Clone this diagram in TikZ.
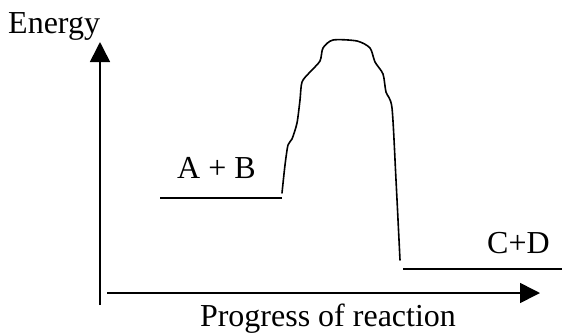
\documentclass[tikz,border=0pt]{standalone}
\usepackage{fontspec}
\setmainfont{Liberation Serif}
\usetikzlibrary{arrows.meta}
\tikzset{
  lbl/.style={font=\fontsize{32}{38}\selectfont, inner sep=0pt, anchor=base west},
  axis/.style={line width=1.6pt, -{Triangle[length=20pt,width=20pt]}},
  level/.style={line width=1.6pt},
  curveline/.style={line width=1.6pt, line join=round, line cap=round}
}
\begin{document}
\begin{tikzpicture}[x=1pt,y=-1pt]
\useasboundingbox (0,0) rectangle (562,333);
% axes
\coordinate (yb) at (100,305);
\coordinate (yt) at (100,42);
\coordinate (xl) at (107,293);
\coordinate (xr) at (540,293);
\draw[axis] (yb) -- (yt);
\draw[axis] (xl) -- (xr);
% labels
\node[lbl] (energy) at (8,33) {Energy};
\node[lbl, anchor=base] (progress) at (328,326) {Progress of reaction};
\node[lbl] (ab) at (177,178) {A + B};
\node[lbl] (cd) at (487,253) {C+D};
% levels
\coordinate (abl) at (160,198);
\coordinate (abr) at (282,198);
\coordinate (cdl) at (403,269);
\coordinate (cdr) at (562,269);
\draw[level] (abl) -- (abr);
\draw[level] (cdl) -- (cdr);
% energy curve
\draw[curveline] plot[smooth, tension=0.45] coordinates {
  (282,193) (285,165) (288,145) (292,139) (297,123) (300,100) (302,82)
  (310,72) (320,61) (323,48) (333,40) (357,41) (370,48) (375,62)
  (383,74) (386,92) (392,108) (396,180) (400,260)};
\end{tikzpicture}
\end{document}
